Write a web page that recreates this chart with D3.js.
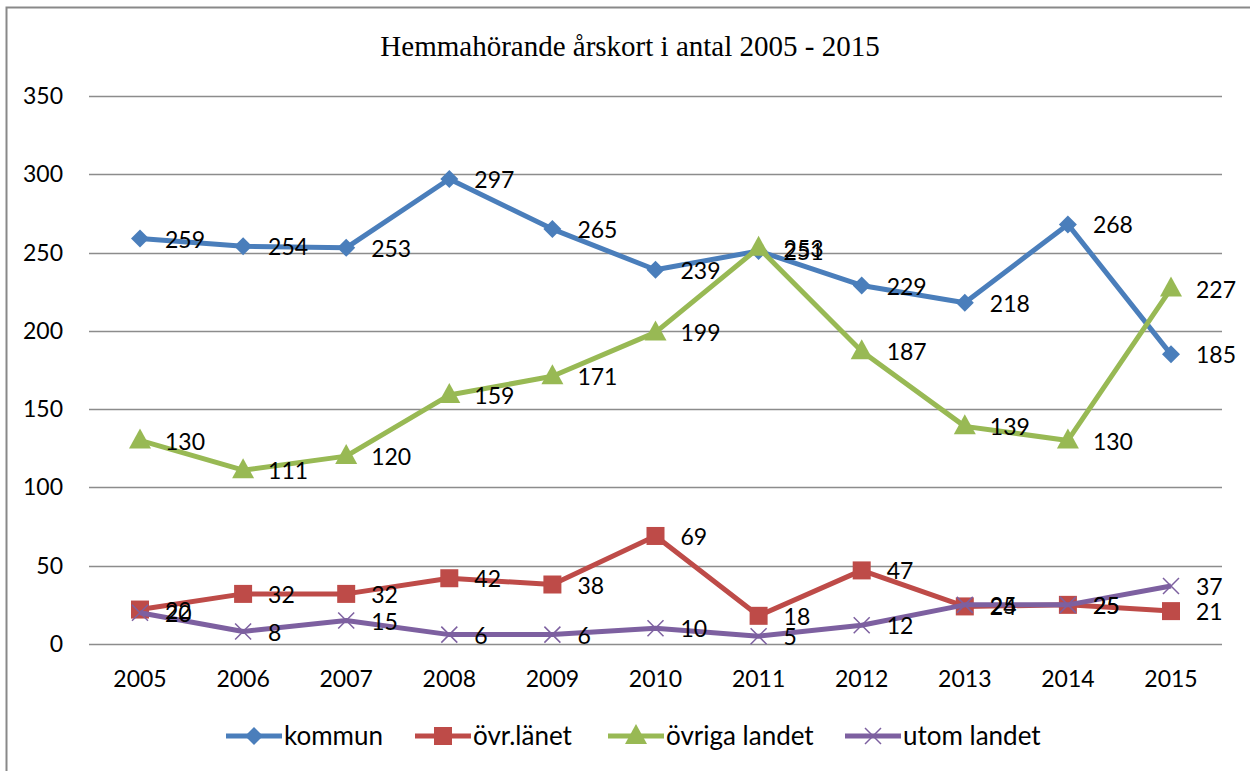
<!DOCTYPE html>
<html>
  <head>
    <meta charset="utf-8" />
    <style>
      body { margin: 0; background: #fff; }
      svg { display: block; }
      text { font-family: Lato, "Open Sans", sans-serif; fill: #000; }
    </style>
  </head>
  <body>
    <svg width="1250" height="771"></svg>
    <script src="https://d3js.org/d3.v7.min.js"></script>
    <script>
      var years = ["2005", "2006", "2007", "2008", "2009", "2010", "2011", "2012", "2013", "2014", "2015"];
      var kommun = [259, 254, 253, 297, 265, 239, 251, 229, 218, 268, 185];
      var ovrLanet = [22, 32, 32, 42, 38, 69, 18, 47, 24, 25, 21];
      var ovrigaLandet = [130, 111, 120, 159, 171, 199, 253, 187, 139, 130, 227];
      var utomLandet = [20, 8, 15, 6, 6, 10, 5, 12, 25, 25, 37];
      var yTicks = [0, 50, 100, 150, 200, 250, 300, 350];

      var series = [
        { name: "kommun", values: kommun, color: "#4A7EBB", symbol: "diamond" },
        { name: "övr.länet", values: ovrLanet, color: "#BE4B48", symbol: "square" },
        { name: "övriga landet", values: ovrigaLandet, color: "#98B954", symbol: "triangle" },
        { name: "utom landet", values: utomLandet, color: "#7D60A0", symbol: "cross" }
      ];

      var svg = d3.select("svg");

      // outer chart border (only top/left visible in the crop)
      svg.append("rect")
        .attr("x", 6.5).attr("y", 7.5)
        .attr("width", 1300).attr("height", 800)
        .attr("fill", "none").attr("stroke", "#898989").attr("stroke-width", 2);

      var x = d3.scalePoint().domain(years).range([140, 1171]);
      var y = d3.scaleLinear().domain([0, 350]).range([644, 96]);

      // gridlines
      svg.append("g").selectAll("line")
        .data(yTicks).enter().append("line")
        .attr("x1", 89).attr("x2", 1222)
        .attr("y1", function(d) { return Math.round(y(d)) + 0.5; })
        .attr("y2", function(d) { return Math.round(y(d)) + 0.5; })
        .attr("stroke", "#8c8c8c").attr("stroke-width", 1.5);

      // y labels
      svg.append("g").selectAll("text")
        .data(yTicks).enter().append("text")
        .attr("x", 63).attr("y", function(d) { return y(d); })
        .attr("dy", "0.35em")
        .attr("text-anchor", "end")
        .attr("font-size", "23px")
        .text(function(d) { return d; });

      // x labels
      svg.append("g").selectAll("text")
        .data(years).enter().append("text")
        .attr("x", function(d) { return x(d); })
        .attr("y", 679).attr("dy", "0.35em")
        .attr("text-anchor", "middle")
        .attr("font-size", "23px")
        .text(function(d) { return d; });

      // title
      svg.append("text")
        .attr("x", 630).attr("y", 46).attr("dy", "0.35em")
        .attr("text-anchor", "middle")
        .style("font-family", "'Liberation Serif', 'Times New Roman', serif")
        .attr("font-size", "29px")
        .text("Hemmahörande årskort i antal 2005 - 2015");

      function drawMarker(sel, s) {
        if (s.symbol === "cross") {
          sel.append("path")
            .attr("d", "M-8,-8L8,8M-8,8L8,-8")
            .attr("stroke", s.color).attr("stroke-width", 1.5).attr("fill", "none");
        } else if (s.symbol === "diamond") {
          sel.append("path").attr("d", "M0,-9L9,0L0,9L-9,0Z").attr("fill", s.color);
        } else if (s.symbol === "square") {
          sel.append("rect").attr("x", -9).attr("y", -9).attr("width", 18).attr("height", 18)
            .attr("fill", s.color);
        } else {
          sel.append("path").attr("d", "M0,-12L11,8L-11,8Z").attr("fill", s.color);
        }
      }

      var line = d3.line()
        .x(function(d, i) { return x(years[i]); })
        .y(function(d) { return y(d); });

      series.forEach(function(s) {
        var g = svg.append("g");
        g.append("path")
          .attr("d", line(s.values))
          .attr("fill", "none")
          .attr("stroke", s.color)
          .attr("stroke-width", 5)
          .attr("stroke-linejoin", "round");
        g.selectAll(".m").data(s.values).enter().append("g")
          .attr("class", "m")
          .attr("transform", function(d, i) { return "translate(" + x(years[i]) + "," + y(d) + ")"; })
          .each(function() { drawMarker(d3.select(this), s); });
      });

      // data labels on top
      series.forEach(function(s) {
        svg.append("g").selectAll("text")
          .data(s.values).enter().append("text")
          .attr("x", function(d, i) { return x(years[i]) + 25; })
          .attr("y", function(d) { return y(d) + 1; })
          .attr("dy", "0.35em")
          .attr("font-size", "23px")
          .text(function(d) { return d; });
      });

      // legend
      var legX = [226, 415, 608, 845];
      var leg = svg.append("g");
      series.forEach(function(s, i) {
        var g = leg.append("g").attr("transform", "translate(" + legX[i] + ",736)");
        g.append("line").attr("x1", 0).attr("x2", 56)
          .attr("stroke", s.color).attr("stroke-width", 5);
        var m = g.append("g").attr("transform", "translate(28,0)");
        drawMarker(m, s);
        g.append("text").attr("x", 58).attr("dy", "0.35em")
          .attr("font-size", "26px").text(s.name);
      });
    </script>
  </body>
</html>
